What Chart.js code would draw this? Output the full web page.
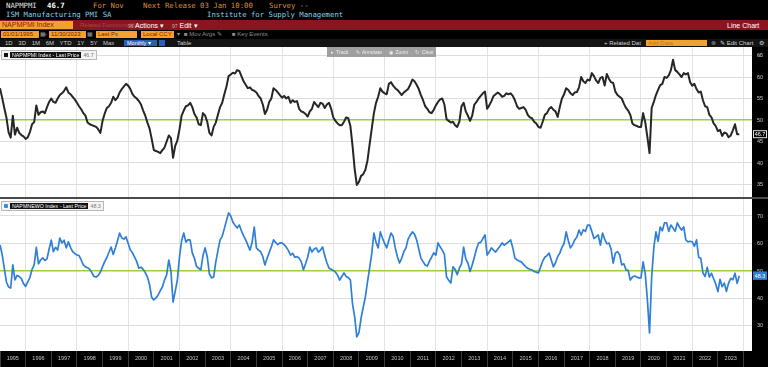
<!DOCTYPE html>
<html>
<head>
<meta charset="utf-8">
<script src="https://cdn.jsdelivr.net/npm/chart.js@4.4.0/dist/chart.umd.min.js"></script>
<style>
  body { margin: 0; background: #000; width: 768px; height: 367px; overflow: hidden; position: relative; font-family: "Liberation Sans", Arial, sans-serif; }
  .t { position: absolute; white-space: nowrap; line-height: 1; }
  .mono { font-family: "DejaVu Sans Mono", monospace; font-size: 7.3px; }
  .box { position: absolute; background: #f3a12e; color: #7c1d00; font-size: 6px; line-height: 7px; padding-left: 2px; box-sizing: border-box; white-space: nowrap; }
  .small { font-size: 6px; color: #bdbdbd; }
  #top, #bot { position: absolute; left: 0; width: 768px; background: #000; }
  #top { top: 47px; height: 150px; }
  #bot { top: 199px; height: 168px; }
  #sep { position: absolute; left: 0; top: 197px; width: 768px; height: 2px; background: #4a4a4a; }
  .legend { position: absolute; left: 1px; height: 10px; border: 1px solid #b8b8b8; background: #f4f4f4; box-sizing: border-box; font-size: 5.3px; line-height: 8px; white-space: nowrap; padding: 0 2px; }
  .legend .sq { display: inline-block; width: 4px; height: 4px; margin-right: 2px; vertical-align: 0px; }
  .legend .nm { background: #111; color: #fff; padding: 0 2px; }
  .legend .v { color: #777; margin-left: 2px; }
</style>
</head>
<body>

<!-- ticker header -->
<span class="t mono" style="left:6px;top:2px;color:#e6e6e6">NAPMPMI</span>
<span class="t mono" style="left:47px;top:2px;color:#fff;font-weight:bold">46.7</span>
<span class="t mono" style="left:93px;top:2px;color:#d88f3c">For Nov</span>
<span class="t mono" style="left:143px;top:2px;color:#d88f3c">Next Release 03 Jan 10:00</span>
<span class="t mono" style="left:269px;top:2px;color:#d88f3c">Survey --</span>
<span class="t mono" style="left:6px;top:11px;color:#86d3e6">ISM Manufacturing PMI SA</span>
<span class="t mono" style="left:207px;top:11px;color:#86d3e6">Institute for Supply Management</span>

<!-- red command bar -->
<div style="position:absolute;left:0;top:20px;width:768px;height:10px;background:#8a1520"></div>
<div class="box" style="left:0;top:21px;width:73px;height:8px;font-size:7px;line-height:8px;color:#8a1e00">NAPMPMI Index</div>
<span class="t" style="left:80px;top:22px;font-size:6px;color:#a5464e">Related Functions Menu</span>
<span class="t" style="left:128px;top:22px;font-size:7px;color:#fff"><span style="color:#e7a0a5;font-size:5px">96</span> Actions ▾</span>
<span class="t" style="left:172px;top:22px;font-size:7px;color:#fff"><span style="color:#e7a0a5;font-size:5px">97</span> Edit ▾</span>
<span class="t" style="left:727px;top:22px;font-size:7px;color:#fff">Line Chart</span>

<!-- date / options row -->
<div class="box" style="left:1px;top:31px;width:38px;height:7px">01/01/1995</div>
<span class="t small" style="left:40px;top:31px;color:#999">▦</span>
<span class="t small" style="left:45px;top:31px">-</span>
<div class="box" style="left:49px;top:31px;width:37px;height:7px">11/30/2023</div>
<span class="t small" style="left:87px;top:31px;color:#999">▦</span>
<div class="box" style="left:96px;top:31px;width:41px;height:7px">Last Px</div>
<div class="box" style="left:141px;top:31px;width:33px;height:7px">Local CCY</div>
<span class="t small" style="left:177px;top:31px;color:#999">▾</span>
<span class="t small" style="left:184px;top:31px;color:#8c8c8c">■ Mov Avgs ✎</span>
<span class="t small" style="left:232px;top:31px;color:#8c8c8c">■ Key Events</span>

<!-- period row -->
<div style="position:absolute;left:0;top:39px;width:768px;height:8px;background:#141414"></div>
<span class="t small" style="left:5px;top:40px;word-spacing:4px;color:#c9c9c9">1D 3D 1M 6M YTD 1Y 5Y Max</span>
<div style="position:absolute;left:124px;top:40px;width:33px;height:6px;background:#2b5fb5;color:#fff;font-size:5.5px;line-height:6px;padding-left:3px;box-sizing:border-box">Monthly ▾</div>
<div style="position:absolute;left:159px;top:40px;width:6px;height:6px;background:#2b5fb5"></div>
<span class="t small" style="left:177px;top:40px;color:#c9c9c9">Table</span>
<span class="t small" style="left:604px;top:40px;color:#d0d0d0">+ Related Dat</span>
<div class="box" style="left:646px;top:40px;width:61px;height:6px;line-height:6px;color:#c4701a">Add Data</div>
<span class="t small" style="left:711px;top:40px;color:#999">⊗</span>
<span class="t small" style="left:720px;top:40px;color:#d0d0d0">✎ Edit Chart</span>
<span class="t small" style="left:759px;top:40px;color:#d0d0d0">⚙</span>

<!-- charts -->
<div id="top"><canvas id="pmiChart"></canvas></div>
<div id="sep"></div>
<div id="bot"><canvas id="noChart"></canvas></div>

<!-- chart toolbox + legends -->
<div style="position:absolute;left:327px;top:47px;width:109px;height:10px;background:rgba(150,150,150,0.9);color:#eee;font-size:5px;line-height:10px;padding-left:4px;box-sizing:border-box;white-space:nowrap;word-spacing:1px">▸ Track &nbsp; ✎ Annotate &nbsp; ◉ Zoom &nbsp; ↻ Clear</div>
<span class="t" style="left:758px;top:52px;font-size:6px;color:#9a9a9a">«</span>
<div class="legend" style="top:50px"><span class="sq" style="background:#111"></span><span class="nm">NAPMPMI Index - Last Price</span><span class="v">46.7</span></div>
<div class="legend" style="top:201px"><span class="sq" style="background:#3d86d8;border-radius:1px"></span><span class="nm">NAPMNEWO Index - Last Price</span><span class="v">48.3</span></div>

<script>
// ISM Manufacturing PMI (NAPMPMI), monthly, Jan 1995 - Nov 2023
const pmi = [
  57.4, 55.2, 52.8, 50.6, 47.2, 45.9, 51.0, 46.6, 48.2, 47.0, 46.5, 46.2, // 1995
  45.6, 46.0, 47.2, 49.0, 49.5, 53.4, 51.2, 51.8, 52.0, 51.6, 53.0, 54.2, // 1996
  55.0, 54.2, 54.0, 55.0, 55.8, 56.2, 56.8, 57.6, 56.4, 56.0, 55.4, 54.8, // 1997
  54.0, 53.2, 52.5, 51.6, 51.0, 49.4, 49.0, 48.8, 48.6, 48.4, 47.8, 47.0, // 1998
  49.8, 51.5, 52.8, 53.2, 54.0, 55.4, 54.6, 55.2, 56.4, 57.2, 57.8, 58.4, // 1999
  58.0, 57.2, 56.0, 55.4, 55.0, 54.4, 53.6, 52.2, 51.0, 49.4, 48.0, 45.6, // 2000
  43.0, 42.8, 42.6, 42.3, 43.0, 43.6, 45.0, 46.4, 45.8, 41.2, 44.0, 45.2, // 2001
  47.8, 51.0, 52.2, 53.2, 53.4, 54.0, 53.0, 51.4, 50.6, 49.0, 48.8, 51.6, // 2002
  51.0, 49.6, 47.0, 46.4, 48.4, 49.4, 51.2, 53.0, 54.0, 56.0, 57.8, 60.2, // 2003
  60.6, 61.0, 60.8, 61.6, 61.4, 60.2, 59.0, 58.2, 57.4, 57.6, 57.0, 56.8, // 2004
  56.4, 55.6, 55.0, 53.6, 51.4, 52.4, 54.2, 55.0, 57.4, 57.0, 56.4, 55.8, // 2005
  55.2, 55.6, 55.0, 55.4, 54.0, 54.6, 54.2, 54.4, 52.6, 52.0, 51.8, 51.4, // 2006
  50.8, 52.0, 52.6, 54.2, 53.6, 53.0, 54.0, 53.8, 52.8, 53.6, 54.0, 52.6, // 2007
  50.6, 49.8, 49.2, 48.8, 48.8, 49.6, 50.6, 50.4, 48.6, 44.0, 38.6, 34.9, // 2008
  35.6, 37.0, 37.4, 38.4, 40.6, 44.4, 48.0, 51.6, 54.0, 55.4, 57.4, 56.6, // 2009
  56.2, 56.0, 58.4, 58.8, 58.0, 57.4, 57.0, 56.4, 55.8, 56.4, 56.8, 57.2, // 2010
  58.2, 59.4, 59.0, 58.2, 57.2, 55.8, 54.6, 53.2, 52.6, 51.8, 51.6, 52.4, // 2011
  53.4, 54.2, 54.8, 55.0, 53.6, 50.2, 49.8, 49.4, 49.6, 48.8, 48.4, 49.6, // 2012
  53.2, 54.0, 52.0, 51.0, 49.8, 51.0, 53.6, 54.2, 55.0, 55.6, 56.2, 56.6, // 2013
  52.6, 53.4, 54.4, 55.6, 56.0, 56.4, 56.0, 55.4, 55.6, 56.2, 56.0, 56.2, // 2014
  55.6, 54.6, 53.2, 52.6, 52.8, 53.0, 52.4, 51.2, 50.6, 50.4, 49.6, 49.2, // 2015
  48.4, 48.2, 49.6, 51.2, 51.6, 52.6, 53.0, 52.4, 52.0, 50.7, 53.0, 55.0, // 2016
  56.0, 57.4, 57.0, 56.2, 55.8, 56.4, 56.5, 57.6, 60.0, 59.0, 58.6, 59.4, // 2017
  59.2, 60.9, 60.2, 59.2, 58.6, 59.8, 60.0, 58.0, 60.7, 59.6, 58.8, 58.6, // 2018
  56.6, 55.8, 55.4, 55.0, 53.8, 52.8, 52.2, 51.2, 49.2, 48.8, 48.6, 48.4, // 2019
  48.4, 51.6, 49.5, 46.0, 42.3, 52.8, 54.2, 55.8, 57.0, 58.1, 58.4, 60.0, // 2020
  59.8, 60.4, 61.6, 64.0, 61.6, 61.2, 60.6, 60.0, 60.9, 60.6, 60.9, 58.8, // 2021
  58.0, 58.4, 57.2, 56.4, 56.6, 54.6, 53.2, 53.0, 51.2, 50.6, 49.2, 48.6, // 2022
  47.4, 47.7, 46.3, 47.1, 46.9, 46.0, 46.4, 47.6, 49.0, 46.7, 46.7        // 2023
];

// ISM New Orders (NAPMNEWO), monthly, Jan 1995 - Nov 2023
const newOrders = [
  59.5, 56.0, 51.0, 46.0, 44.2, 43.8, 52.2, 46.8, 48.4, 48.0, 47.2, 45.4, // 1995
  44.4, 46.0, 47.6, 50.6, 52.2, 58.6, 52.6, 54.0, 54.8, 53.8, 54.4, 58.0, // 1996
  61.2, 57.0, 58.6, 57.6, 62.0, 60.2, 61.2, 58.4, 60.6, 58.6, 57.0, 56.4, // 1997
  55.8, 55.6, 54.0, 52.2, 51.5, 51.2, 50.6, 49.4, 48.0, 47.8, 48.4, 49.6, // 1998
  51.6, 53.4, 54.9, 56.8, 58.7, 56.0, 58.4, 61.0, 63.8, 62.0, 61.6, 62.4, // 1999
  60.0, 57.6, 56.6, 55.0, 53.4, 51.0, 51.4, 50.6, 49.4, 47.8, 45.0, 40.4, // 2000
  39.5, 40.2, 41.3, 42.8, 44.2, 46.7, 48.6, 54.0, 50.0, 38.7, 42.6, 46.7, // 2001
  55.0, 61.0, 63.8, 60.5, 61.4, 61.2, 56.6, 54.6, 51.6, 51.0, 50.4, 55.6, // 2002
  58.4, 55.2, 49.0, 47.5, 47.8, 53.3, 57.4, 61.3, 62.6, 65.4, 68.4, 71.1, // 2003
  70.0, 67.8, 66.6, 65.6, 66.7, 64.6, 62.8, 61.3, 59.4, 57.6, 60.4, 66.0, // 2004
  58.4, 57.6, 57.0, 55.2, 52.2, 54.6, 56.7, 58.8, 61.3, 60.4, 59.6, 60.2, // 2005
  60.2, 59.6, 58.7, 57.4, 55.8, 56.4, 55.0, 55.2, 54.7, 53.4, 50.4, 52.6, // 2006
  55.0, 58.7, 56.9, 58.0, 58.4, 56.9, 57.6, 58.7, 55.6, 53.0, 51.0, 50.6, // 2007
  50.2, 49.6, 48.4, 46.7, 48.0, 49.3, 48.0, 47.6, 46.7, 38.0, 33.3, 26.0, // 2008
  27.6, 32.9, 36.8, 40.5, 46.0, 51.0, 56.4, 63.8, 60.4, 58.4, 64.2, 62.0, // 2009
  60.0, 58.4, 61.2, 63.8, 62.6, 58.4, 55.2, 52.9, 54.6, 57.0, 58.4, 61.6, // 2010
  63.0, 64.2, 63.4, 61.3, 58.0, 54.7, 53.4, 52.2, 51.8, 53.6, 55.0, 56.6, // 2011
  55.8, 60.2, 58.8, 57.6, 56.0, 47.8, 46.6, 45.6, 51.5, 50.6, 48.7, 51.0, // 2012
  52.6, 58.7, 54.4, 52.9, 49.8, 52.2, 55.0, 58.0, 60.2, 60.4, 61.8, 63.1, // 2013
  55.8, 57.0, 58.4, 57.6, 56.9, 58.0, 59.0, 60.2, 59.4, 60.0, 60.6, 61.3, // 2014
  58.4, 54.7, 54.0, 53.6, 53.3, 52.4, 51.6, 51.0, 50.6, 50.4, 49.8, 49.6, // 2015
  49.3, 51.4, 53.6, 55.0, 55.6, 56.5, 54.0, 51.5, 53.0, 55.2, 56.5, 58.6, // 2016
  60.0, 64.2, 61.0, 58.4, 59.6, 61.3, 62.4, 64.9, 63.1, 65.0, 64.4, 66.7, // 2017
  66.7, 64.4, 61.8, 62.4, 63.1, 59.4, 63.8, 61.6, 59.9, 60.2, 58.0, 52.9, // 2018
  56.5, 57.0, 56.0, 52.2, 52.6, 50.4, 50.2, 46.7, 47.8, 48.2, 47.8, 47.5, // 2019
  47.5, 53.3, 49.0, 39.5, 27.5, 47.8, 58.4, 64.2, 60.8, 66.0, 64.6, 67.5, // 2020
  67.5, 64.4, 66.7, 65.6, 64.4, 67.5, 66.0, 64.9, 66.0, 61.3, 60.6, 60.8, // 2021
  60.6, 59.0, 61.3, 55.0, 54.6, 49.3, 48.0, 51.3, 47.8, 49.2, 47.2, 45.2, // 2022
  42.5, 47.0, 44.3, 45.6, 42.6, 45.6, 47.3, 46.8, 49.2, 45.5, 48.3        // 2023
];

const firstYear = 1995;
const axisEnd = 2024.33;
const yearLabels = ['1995','1996','1997','1998','1999','2000','2001','2002','2003','2004','2005','2006','2007','2008','2009',
  '2010','2011','2012','2013','2014','2015','2016','2017','2018','2019','2020','2021','2022','2023'];
const yearTicks = [1995,1996,1997,1998,1999,2000,2001,2002,2003,2004,2005,2006,2007,2008,2009,
  2010,2011,2012,2013,2014,2015,2016,2017,2018,2019,2020,2021,2022,2023,2024];
const pmiTicks = [35, 40, 45, 50, 55, 60, 65];
const noTicks = [30, 40, 50, 60, 70];
const refLevel = 50;

const FONT = 'Liberation Sans';

// monthly series -> {x: decimal year, y}
function toPoints(vals) {
  return vals.map((v, i) => ({ x: firstYear + i / 12, y: v }));
}

const whiteArea = {
  id: 'whiteArea',
  beforeDraw(chart) {
    const a = chart.chartArea, c = chart.ctx;
    c.save();
    c.fillStyle = '#fff';
    c.fillRect(a.left, a.top, a.right - a.left, a.bottom - a.top);
    c.restore();
  }
};

// last value tag in the right strip
const lastTag = {
  id: 'lastTag',
  afterDraw(chart, args, opts) {
    const data = chart.data.datasets[0].data;
    const last = data[data.length - 1];
    const y = chart.scales.y.getPixelForValue(last.y);
    const x = chart.chartArea.right + 1;
    const c = chart.ctx;
    c.save();
    c.fillStyle = opts.fill;
    c.fillRect(x, y - 4, 14, 8);
    c.strokeStyle = opts.stroke;
    c.lineWidth = 1;
    c.strokeRect(x + 0.5, y - 3.5, 13, 7);
    c.fillStyle = '#fff';
    c.font = '5.5px ' + FONT;
    c.textAlign = 'center';
    c.textBaseline = 'middle';
    c.fillText(last.y.toFixed(1), x + 7, y + 0.5);
    c.restore();
  }
};

function xScale(showLabels) {
  return {
    type: 'linear',
    min: firstYear,
    max: axisEnd,
    afterBuildTicks: s => { s.ticks = yearTicks.map(v => ({ value: v })); },
    afterFit: s => { s.height = showLabels ? 16 : 0; s.paddingLeft = 0; s.paddingRight = 0; },
    border: { display: false },
    grid: {
      color: c => (c.tick && c.tick.value % 2 === 0) ? '#e3e3e3' : 'rgba(0,0,0,0)',
      tickColor: '#3c3c3c',
      drawTicks: showLabels,
      tickLength: 16,
      lineWidth: 1
    },
    ticks: {
      display: showLabels,
      autoSkip: false,
      maxRotation: 0,
      color: '#c4c4c4',
      font: { family: FONT, size: 5.5 },
      labelOffset: 12.8,
      padding: -12,
      callback: (v, i) => yearLabels[i] || ''
    }
  };
}

function yScale(min, max, ticks) {
  return {
    position: 'right',
    min: min,
    max: max,
    afterBuildTicks: s => { s.ticks = ticks.map(v => ({ value: v })); },
    afterFit: s => { s.width = 16; s.paddingTop = 0; s.paddingBottom = 0; },
    border: { display: false },
    grid: {
      color: c => c.tick && c.tick.value === refLevel ? '#9ccf38' : '#dedede',
      lineWidth: c => c.tick && c.tick.value === refLevel ? 1.6 : 1,
      drawTicks: false
    },
    ticks: { color: '#c8c8c8', font: { family: FONT, size: 5.5 }, padding: 5 }
  };
}

function makeChart(id, vals, color, width, yMin, yMax, ticks, showLabels, tag) {
  return new Chart(document.getElementById(id), {
    type: 'line',
    data: {
      datasets: [{
        data: toPoints(vals),
        borderColor: color,
        borderWidth: width,
        pointRadius: 0,
        tension: 0,
        borderJoinStyle: 'round'
      }]
    },
    options: {
      responsive: true,
      maintainAspectRatio: false,
      animation: false,
      layout: { padding: 0 },
      plugins: { legend: { display: false }, tooltip: { enabled: false }, lastTag: tag },
      scales: { x: xScale(showLabels), y: yScale(yMin, yMax, ticks) }
    },
    plugins: [whiteArea, lastTag]
  });
}

makeChart('pmiChart', pmi, '#262626', 2, 32.09, 66.98, pmiTicks, false, { fill: '#000', stroke: '#e0e0e0' });
makeChart('noChart', newOrders, '#2f7fd8', 1.7, 20.9, 76.18, noTicks, true, { fill: '#2f7fd8', stroke: '#2f7fd8' });
</script>
</body>
</html>
